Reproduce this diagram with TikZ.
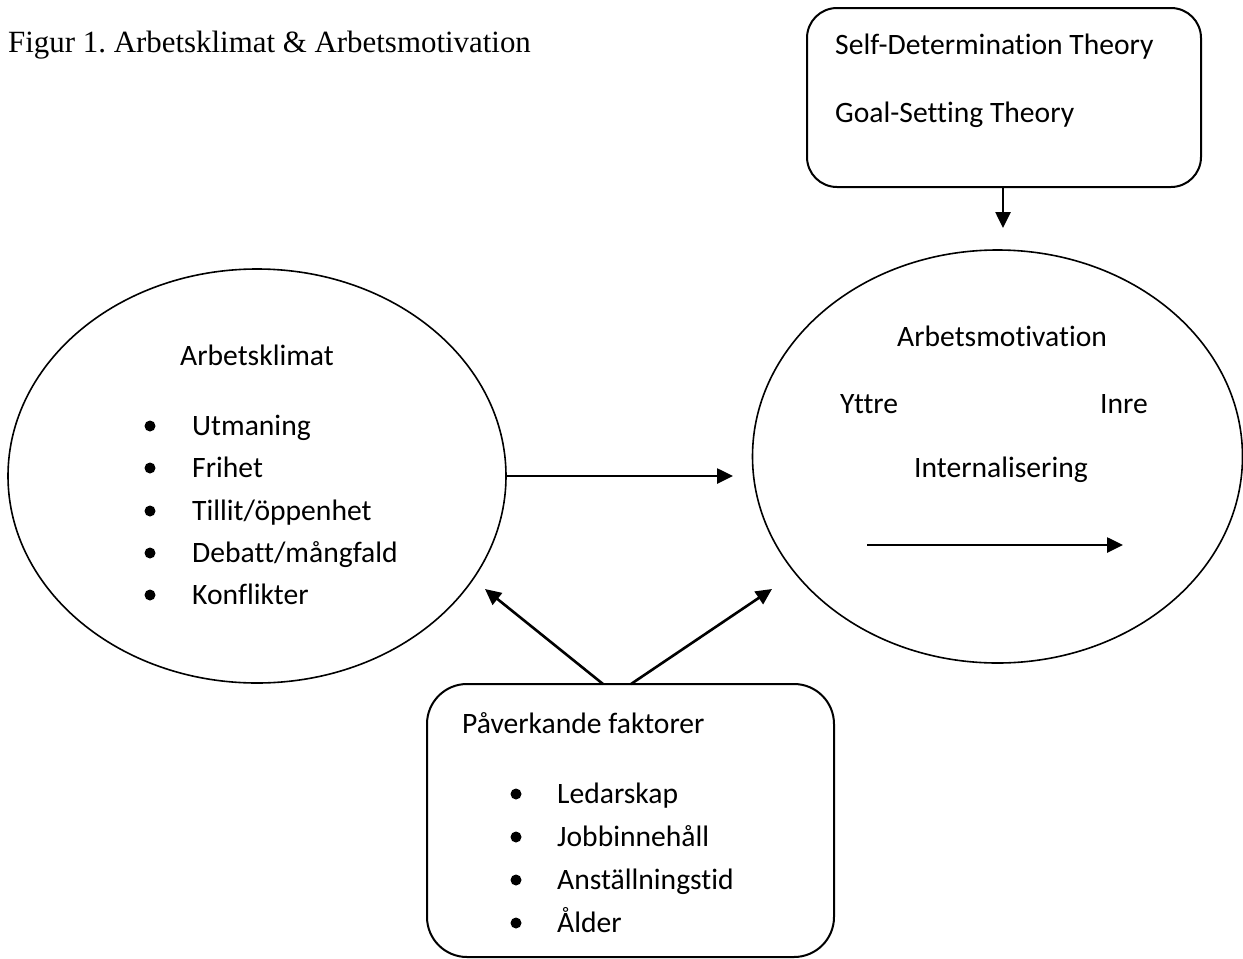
\documentclass[tikz,border=0pt]{standalone}
\usepackage{fontspec}
\setmainfont{Carlito}[Ligatures={NoCommon}]
\newfontfamily\tnr{Liberation Serif}
\frenchspacing
\usetikzlibrary{shapes.geometric,arrows.meta}
\tikzset{
  txt/.style={anchor=base west,inner sep=0pt,font=\fontsize{29.6}{35}\selectfont},
  shapeline/.style={draw=black,line width=1.6pt},
  boxline/.style={draw=black,line width=2pt},
  arr/.style={line width=2.6pt,-{Triangle[length=16pt,width=15pt]}},
  bul/.style={circle,fill=black,inner sep=0pt,minimum size=11pt}
}
\begin{document}
\begin{tikzpicture}[x=1pt,y=-1pt]
\useasboundingbox[fill=white] (0,0) rectangle (1243,959);
% title
\node[txt,font=\tnr\fontsize{30.9}{36}\selectfont] (title) at (8,52) {Figur 1. Arbetsklimat \& Arbetsmotivation};
% theory box
\node[boxline,rounded corners=30pt,minimum width=394pt,minimum height=179pt,inner sep=0pt] (theory) at (1004,97.5) {};
\node[txt] (sdt) at (835,54) {Self-Determination Theory};
\node[txt] (gst) at (835,122) {Goal-Setting Theory};
% ellipses
\node[shapeline,ellipse,minimum width=498pt,minimum height=414pt,inner sep=0pt] (ellK) at (257,476) {};
\node[shapeline,ellipse,minimum width=490pt,minimum height=413pt,inner sep=0pt] (ellM) at (997.5,456.5) {};
% Arbetsklimat text
\node[txt] (ak) at (180,365) {Arbetsklimat};
\foreach \t/\y [count=\i] in {{Utmaning}/435,{Frihet}/477,{Tillit/öppenhet}/520,{Debatt/mångfald}/562,{Konflikter}/604}{
  \node[bul] (kb\i) at (150,\y-9) {};
  \node[txt] (kt\i) at (192,\y) {\t};
}
% Arbetsmotivation text
\node[txt] (am) at (897,346) {Arbetsmotivation};
\node[txt] (yt) at (840,413) {Yttre};
\node[txt] (in) at (1100,413) {Inre};
\node[txt] (il) at (914,477) {Internalisering};
\coordinate (intA) at (867,545);
\coordinate (intB) at (1123,545);
\draw[arr] (intA) -- (intB);
% factors box
\node[boxline,rounded corners=40pt,minimum width=407pt,minimum height=273pt,inner sep=0pt] (fact) at (630.5,820.5) {};
\node[txt] (pf) at (462,733) {Påverkande faktorer};
\foreach \t/\y [count=\i] in {{Ledarskap}/803,{Jobbinnehåll}/846,{Anställningstid}/889,{Ålder}/932}{
  \node[bul] (fb\i) at (516,\y-9) {};
  \node[txt] (ft\i) at (557,\y) {\t};
}
% connectors
\coordinate (tA) at (733,476);
\draw[arr] (ellK.east) -- (tA);
\coordinate (tB) at (1003,228);
\draw[arr] (theory.south -| tB) -- (tB);
\coordinate (sL) at (603,684);
\coordinate (sR) at (631,684);
\coordinate (tL) at (485,589);
\coordinate (tR) at (772,589);
\draw[arr] (sL) -- (tL);
\draw[arr] (sR) -- (tR);
\end{tikzpicture}
\end{document}
